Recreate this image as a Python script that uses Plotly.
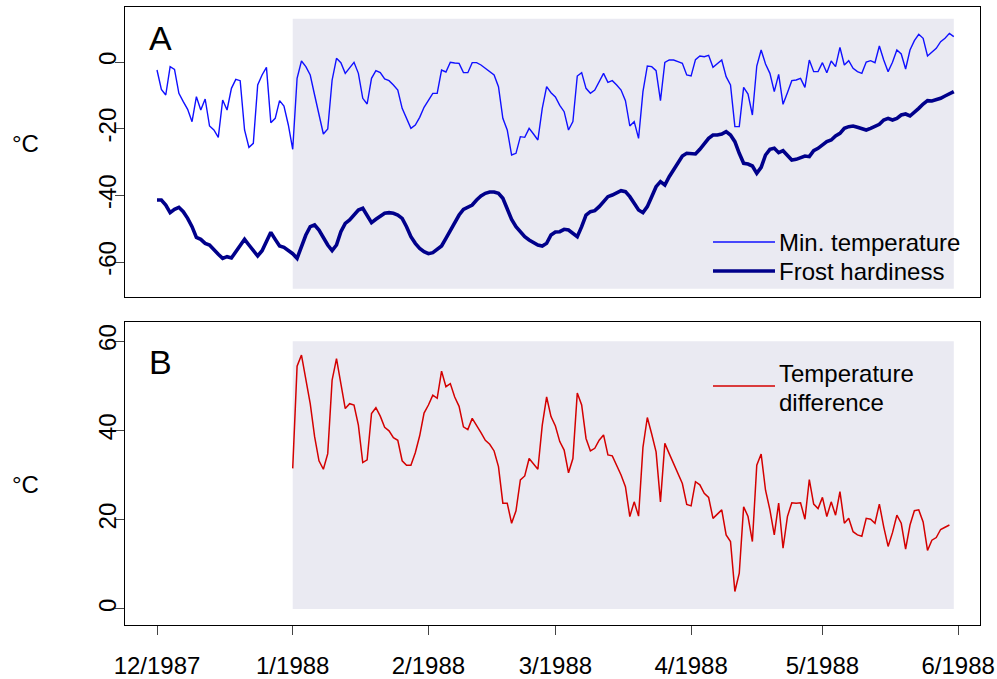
import pandas as pd
import plotly.graph_objects as go

# ---- data -------------------------------------------------------------
# Daily minimum air temperature (deg C), 1 Dec 1987 - 31 May 1988
min_temp_dec = [-2.4, -8.2, -9.9, -1.4, -2.2, -9.4, -11.9, -14.2, -17.9, -10.4,
                -14.4, -11.1, -19.2, -20.4, -22.6, -11.4, -14.4, -7.9, -5.2, -5.6,
                -20.4, -25.6, -24.4, -6.9, -3.9, -1.6, -18.2, -16.9, -11.6, -13.2, -18.9]
min_temp_jan = [-26.2, -4.9, 0.3, -1.4, -3.9, -9.9, -15.9, -21.6, -20.1, -5.4,
                1.1, -0.2, -3.4, -1.6, -0.1, -3.4, -10.9, -12.6, -4.9, -2.6,
                -3.2, -5.1, -5.6, -6.9, -8.4, -13.9, -16.9, -19.9, -18.9, -16.6, -13.6]
min_temp_feb = [-11.4, -9.4, -9.4, -2.4, -3.0, -0.1, -0.3, -0.4, -3.2, -3.2,
                -0.2, -0.2, -0.9, -1.9, -2.7, -3.9, -7.4, -16.9, -20.4, -27.9,
                -27.4, -22.4, -22.6, -19.9, -21.6, -23.4, -13.9, -7.4, -9.2]
min_temp_mar = [-10.5, -13.0, -14.9, -20.4, -17.9, -4.2, -3.2, -7.9, -9.4, -8.4,
                -5.9, -3.4, -6.1, -5.6, -6.9, -8.4, -11.6, -19.2, -17.9, -22.9,
                -8.9, -1.2, -1.4, -2.6, -11.6, -0.1, 0.6, 0.6, 0.1, -0.4, -3.9]
min_temp_apr = [-4.2, 0.7, 1.8, 1.6, 2.0, -1.6, -0.4, 0.6, -4.4, -6.9,
                -19.4, -19.4, -7.6, -9.6, -15.9, -1.2, 3.6, -0.6, -3.4, -8.9,
                -3.7, -12.7, -9.2, -5.6, -5.4, -4.9, -7.6, 0.6, -2.9, -2.9]
min_temp_may = [-0.2, -3.2, 0.3, -1.4, 4.4, -0.9, 0.4, -1.9, -2.9, -3.4,
                0.0, 0.4, -0.2, 4.8, 0.6, -2.9, -0.1, 3.6, 2.4, -2.1,
                3.6, 6.4, 8.3, 7.1, 1.8, 3.1, 4.1, 6.1, 7.1, 8.6, 7.6]

# Daily frost hardiness (deg C), same period
hardiness_dec = [-41.4, -41.4, -42.9, -45.2, -44.2, -43.6, -44.9, -46.9, -49.4, -52.6,
                 -53.2, -54.4, -54.9, -56.4, -57.7, -58.9, -58.4, -58.8, -56.9, -54.9,
                 -53.2, -54.9, -56.6, -58.2, -56.6, -53.9, -51.1, -53.2, -55.2, -55.6, -56.4]
hardiness_jan = [-57.5, -58.9, -55.4, -51.9, -49.4, -48.9, -50.4, -52.9, -54.9, -56.6,
                 -54.9, -50.9, -48.4, -47.4, -45.9, -44.4, -43.9, -45.9, -48.2, -47.2,
                 -46.2, -45.4, -45.2, -45.4, -45.9, -46.9, -49.4, -52.4, -54.4, -55.9, -56.9]
hardiness_feb = [-57.5, -57.2, -56.2, -55.2, -52.9, -50.4, -47.9, -45.9, -44.2, -43.6,
                 -42.9, -41.4, -40.2, -39.4, -39.0, -39.0, -39.4, -40.9, -44.4, -47.2,
                 -49.4, -51.1, -52.4, -53.4, -54.2, -54.9, -55.2, -54.4, -51.9]
hardiness_mar = [-51.0, -50.9, -50.2, -50.4, -51.4, -52.4, -49.4, -45.9, -44.9, -44.6,
                 -43.4, -41.9, -40.4, -39.9, -39.2, -38.6, -38.9, -40.4, -42.4, -44.4,
                 -45.2, -43.4, -40.4, -37.4, -35.9, -36.9, -34.4, -32.2, -29.9, -28.2, -27.4]
hardiness_apr = [-27.4, -27.6, -26.2, -24.4, -22.9, -21.9, -21.9, -21.6, -20.9, -21.9,
                 -23.9, -27.4, -30.4, -30.6, -31.2, -33.4, -31.6, -27.9, -26.2, -25.9,
                 -27.2, -26.6, -28.2, -29.4, -29.2, -28.7, -28.2, -28.4, -26.6, -25.9]
hardiness_may = [-24.9, -23.9, -23.4, -22.2, -21.4, -19.9, -19.4, -19.2, -19.6, -19.9,
                 -20.4, -19.9, -19.2, -18.7, -17.4, -16.9, -17.4, -16.9, -15.9, -15.6,
                 -16.2, -15.2, -13.9, -12.6, -11.6, -11.7, -11.4, -10.9, -10.2, -9.4, -8.9]

# Temperature difference (deg C), 1 Jan 1988 - 30 May 1988
diff_jan = [31.5, 54.4, 56.9, 51.4, 46.0, 38.6, 33.2, 31.3, 34.8, 51.3,
            56.1, 50.5, 44.9, 46.0, 45.7, 41.2, 32.8, 33.4, 43.8, 45.1,
            43.2, 40.7, 39.9, 38.4, 37.8, 33.2, 32.2, 32.2, 35.0, 38.8, 43.9]
diff_feb = [45.7, 47.9, 47.2, 53.3, 49.8, 50.5, 47.5, 45.4, 40.8, 40.2,
            42.7, 41.2, 39.5, 37.8, 36.9, 35.4, 31.9, 23.7, 23.7, 19.2,
            22.0, 28.9, 29.8, 33.7, 32.6, 31.3, 41.2, 47.5, 43.1]
diff_mar = [41.0, 37.5, 35.6, 30.5, 33.7, 48.4, 45.7, 38.2, 35.4, 36.0,
            37.8, 39.0, 34.5, 34.3, 32.2, 30.0, 27.4, 20.7, 24.0, 20.8,
            36.2, 42.9, 39.2, 35.2, 24.0, 37.1, 34.8, 32.6, 30.4, 28.1, 23.4]
diff_apr = [23.1, 28.5, 27.8, 25.9, 25.0, 20.3, 21.3, 22.2, 16.6, 15.1,
            3.9, 8.0, 22.9, 20.7, 15.1, 32.2, 34.7, 26.6, 22.2, 16.6,
            23.7, 13.6, 20.7, 23.8, 23.7, 23.8, 20.1, 29.0, 23.5, 22.5]
diff_may = [25.0, 20.7, 24.0, 21.0, 26.3, 19.2, 20.3, 17.3, 16.6, 16.3,
            20.3, 20.1, 19.2, 23.5, 18.4, 14.0, 17.1, 21.0, 19.2, 13.4,
            18.8, 22.0, 22.2, 19.5, 13.1, 15.4, 16.0, 17.8, 18.3, 18.8]

tick_dates = ["1987-12-01", "1988-01-01", "1988-02-01", "1988-03-01",
              "1988-04-01", "1988-05-01", "1988-06-01"]
tick_labels = ["12/1987", "1/1988", "2/1988", "3/1988", "4/1988", "5/1988", "6/1988"]

yticks_a = [-60, -40, -20, 0]
yticks_b = [0, 20, 40, 60]

# shaded study period and its vertical extent in each panel
shade_start, shade_end = "1988-01-01", "1988-05-31"
shade_a = (-68, 13)
shade_b = (0, 60)

# ---- series -----------------------------------------------------------
min_temp = min_temp_dec + min_temp_jan + min_temp_feb + min_temp_mar + min_temp_apr + min_temp_may
hardiness = hardiness_dec + hardiness_jan + hardiness_feb + hardiness_mar + hardiness_apr + hardiness_may
temp_diff = diff_jan + diff_feb + diff_mar + diff_apr + diff_may

dates_full = pd.date_range("1987-12-01", periods=len(min_temp), freq="D")
dates_diff = pd.date_range("1988-01-01", periods=len(temp_diff), freq="D")

# ---- geometry (pixels) ------------------------------------------------
W, H = 997, 679
L, R, T, B = 125, 17, 7, 54
plot_w = W - L - R
plot_h = H - T - B


def px(x):
    return (x - L) / plot_w


def py(y):
    return (H - B - y) / plot_h


FONT = "Liberation Sans, Arial, Helvetica, sans-serif"
BLUE = "#1010FF"
NAVY = "#00008B"
RED = "#D40000"
SHADE = "#EAEAF2"

fig = go.Figure()

fig.add_trace(go.Scatter(x=dates_full, y=min_temp, mode="lines",
                         line=dict(color=BLUE, width=1.4),
                         xaxis="x", yaxis="y", showlegend=False))
fig.add_trace(go.Scatter(x=dates_full, y=hardiness, mode="lines",
                         line=dict(color=NAVY, width=3.6),
                         xaxis="x", yaxis="y", showlegend=False))
fig.add_trace(go.Scatter(x=dates_diff, y=temp_diff, mode="lines",
                         line=dict(color=RED, width=1.5),
                         xaxis="x2", yaxis="y2", showlegend=False))

x0 = pd.Timestamp("1987-12-01") - pd.Timedelta(days=7.31)
x1 = x0 + pd.Timedelta(days=195.3)

axis_common = dict(showline=True, linecolor="black", linewidth=1.3, mirror=True,
                   showgrid=False, zeroline=False, automargin=False)

dom_a = [py(297), py(7)]
dom_b = [py(625), py(322)]

ylab = dict(ticks="outside", ticklen=9, tickwidth=1.3, tickangle=-90,
            tickfont=dict(size=24), ticklabelstandoff=-11)

fig.update_layout(
    width=W, height=H,
    margin=dict(l=L, r=R, t=T, b=B, autoexpand=False),
    paper_bgcolor="white", plot_bgcolor="white",
    font=dict(family=FONT, size=24, color="black"),
    xaxis=dict(domain=[0, 1], anchor="y", range=[x0, x1], type="date",
               showticklabels=False, ticks="", **axis_common),
    yaxis=dict(domain=dom_a, anchor="x", range=[-70.5, 16.5],
               tickvals=yticks_a, ticktext=[str(v) for v in yticks_a],
               **ylab, **axis_common),
    xaxis2=dict(domain=[0, 1], anchor="y2", range=[x0, x1], type="date",
                tickvals=tick_dates, ticktext=tick_labels, ticks="outside",
                ticklen=9, tickwidth=1.3, tickfont=dict(size=24),
                ticklabelstandoff=10, **axis_common),
    yaxis2=dict(domain=dom_b, anchor="x2", range=[-3.6, 64.3],
                tickvals=yticks_b, ticktext=[str(v) for v in yticks_b],
                **ylab, **axis_common),
)

# shaded study period
fig.add_shape(type="rect", xref="x", yref="y", x0=shade_start, x1=shade_end,
              y0=shade_a[0], y1=shade_a[1], fillcolor=SHADE, line_width=0, layer="below")
fig.add_shape(type="rect", xref="x2", yref="y2", x0=shade_start, x1=shade_end,
              y0=shade_b[0], y1=shade_b[1], fillcolor=SHADE, line_width=0, layer="below")

# legend keys
fig.add_shape(type="line", xref="paper", yref="paper", x0=px(713), x1=px(775),
              y0=py(242), y1=py(242), line=dict(color=BLUE, width=1.4))
fig.add_shape(type="line", xref="paper", yref="paper", x0=px(713), x1=px(775),
              y0=py(271), y1=py(271), line=dict(color=NAVY, width=3.6))
fig.add_shape(type="line", xref="paper", yref="paper", x0=px(713), x1=px(775),
              y0=py(386), y1=py(386), line=dict(color=RED, width=1.5))


def label(text, x, y, size=24, xanchor="left"):
    fig.add_annotation(text=text, xref="paper", yref="paper", x=px(x), y=py(y),
                       xanchor=xanchor, yanchor="middle", showarrow=False,
                       font=dict(family=FONT, size=size, color="black"))


label("Min. temperature", 777, 242)
label("Frost hardiness", 777, 271)
label("Temperature", 777, 373)
label("difference", 777, 402)

label("A", 160, 38, size=34, xanchor="center")
label("B", 160, 362, size=34, xanchor="center")

label("°C", 25, 143, xanchor="center")
label("°C", 25, 484, xanchor="center")

fig.write_html("out.html")
